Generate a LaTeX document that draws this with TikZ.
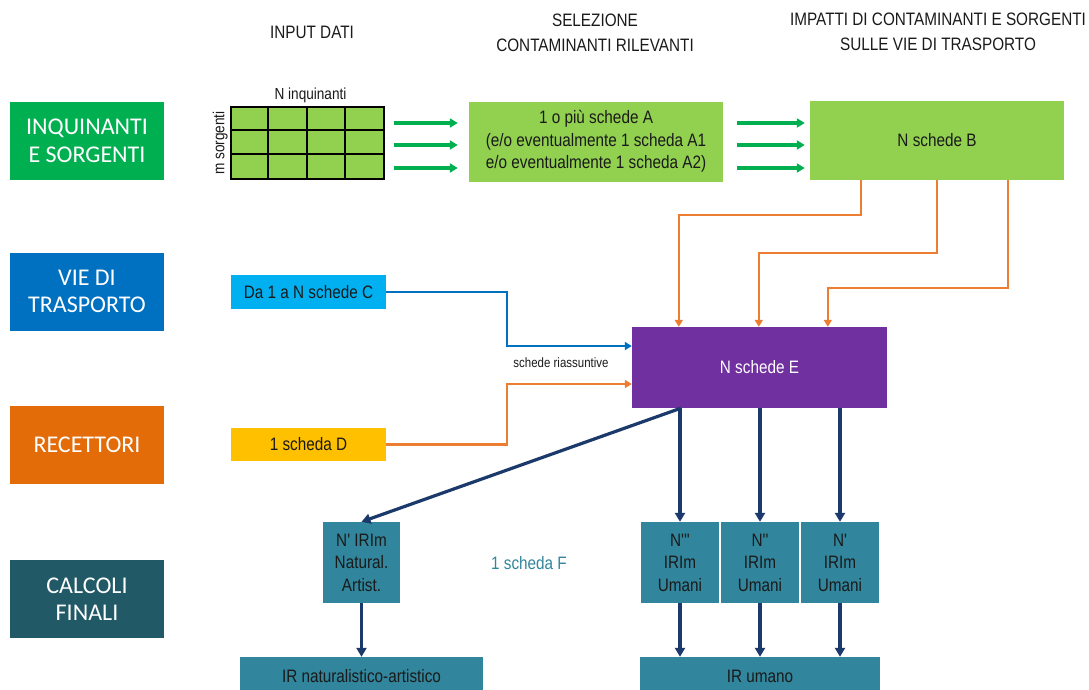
\documentclass[tikz,border=0pt]{standalone}
\usepackage{fontspec}
\usetikzlibrary{arrows.meta,calc}
\setmainfont{Liberation Sans}
\newfontfamily\narrowfont[FakeStretch=0.85]{Liberation Sans}
\newfontfamily\labelfont{Carlito}
\definecolor{cgreen}{HTML}{00B050}
\definecolor{lgreen}{HTML}{92D050}
\definecolor{cblue}{HTML}{0070C0}
\definecolor{corange}{HTML}{E36C09}
\definecolor{cdteal}{HTML}{215967}
\definecolor{ccyan}{HTML}{00B0F0}
\definecolor{cyellow}{HTML}{FFC000}
\definecolor{cpurple}{HTML}{7030A0}
\definecolor{cteal}{HTML}{31859C}
\definecolor{cnavy}{HTML}{1B3A6B}
\definecolor{lorange}{HTML}{ED7D31}
\definecolor{ctext}{HTML}{1A1A1A}
\begin{document}
\begin{tikzpicture}[x=1pt,y=-1pt,
  rowlabel/.style={rectangle,inner sep=0pt,minimum width=154pt,minimum height=78pt,
    align=center,text=white,font=\labelfont\fontsize{24}{27.5}\selectfont},
  card/.style={rectangle,inner sep=0pt,align=center,text=ctext,
    font=\narrowfont\fontsize{18}{22.5}\selectfont},
  head/.style={align=center,text=ctext,font=\narrowfont\fontsize{18}{25}\selectfont},
  garrow/.style={draw=cgreen,line width=3.2pt,-{Triangle[length=8pt,width=9pt]}},
  oarrow/.style={draw=lorange,line width=2.2pt,-{Triangle[length=7pt,width=8pt]}},
  barrow/.style={draw=cblue,line width=2.2pt,-{Triangle[length=7pt,width=8pt]}},
  narrow/.style={draw=cnavy,line width=3.2pt,-{Triangle[length=9pt,width=10pt]}}]
\useasboundingbox (0,0) rectangle (1089,689);

% row labels
\node[rowlabel,fill=cgreen] (r1) at (87,141) {INQUINANTI\\E SORGENTI};
\node[rowlabel,fill=cblue] (r2) at (87,291.5) {VIE DI\\TRASPORTO};
\node[rowlabel,fill=corange] (r3) at (87,445) {RECETTORI};
\node[rowlabel,fill=cdteal] (r4) at (87,599) {CALCOLI\\FINALI};

% column headings
\node[head] (h1) at (312,32) {INPUT DATI};
\node[head] (h2) at (595,33) {SELEZIONE\\CONTAMINANTI RILEVANTI};
\node[head] (h3) at (938,32) {IMPATTI DI CONTAMINANTI E SORGENTI\\SULLE VIE DI TRASPORTO};

% input grid
\node[draw=black,fill=lgreen,line width=2pt,inner sep=0pt,minimum width=153pt,minimum height=72pt] (grid) at (307.5,143) {};
\foreach \i in {1,2,3}
  \draw[black,line width=2pt] ($(grid.north west)+(38.25*\i,0)$) -- ($(grid.south west)+(38.25*\i,0)$);
\foreach \j in {1,2}
  \draw[black,line width=2pt] ($(grid.north west)+(0,24*\j)$) -- ($(grid.north east)+(0,24*\j)$);
\node[card,font=\narrowfont\fontsize{16}{18}\selectfont,anchor=south] (ninq) at ($(grid.north)+(3,-3)$) {N inquinanti};
\node[card,font=\narrowfont\fontsize{16}{18}\selectfont,rotate=90,anchor=south] (msorg) at ($(grid.west)+(-2,0)$) {m sorgenti};

% selection and impacts
\node[card,fill=lgreen,minimum width=254pt,minimum height=80pt] (A) at (596,141.5)
  {1 o più schede A\\(e/o eventualmente 1 scheda A1\\e/o eventualmente 1 scheda A2)};
\node[card,fill=lgreen,minimum width=254pt,minimum height=79pt] (B) at (937,140.5) {N schede B};

\foreach \dy in {-20,2,25} {
  \draw[garrow] ($(grid.east)+(9,\dy)$) -- ($(A.west |- grid.east)+(-11,\dy)$);
  \draw[garrow] ($(A.east |- grid.east)+(14,\dy)$) -- ($(B.west |- grid.east)+(-5,\dy)$);
}

% transport and receptors
\node[card,fill=ccyan,minimum width=155pt,minimum height=34pt] (C) at (308.5,292) {Da 1 a N schede C};
\node[card,fill=cyellow,minimum width=155pt,minimum height=33pt] (D) at (308.5,444.5) {1 scheda D};
\node[card,fill=cpurple,text=white,minimum width=255pt,minimum height=81pt] (E) at (759.5,367.5) {N schede E};

\draw[oarrow] ($(B.south west)+(51,0)$) -- ++(0,35) -| ($(E.north west)+(47,0)$);
\draw[oarrow] ($(B.south west)+(127,0)$) -- ++(0,73) -| ($(E.north west)+(127,0)$);
\draw[oarrow] ($(B.south west)+(198,0)$) -- ++(0,108) -| ($(E.north west)+(196,0)$);

\draw[barrow] (C.east) -- ++(121,0) |- ($(E.west)+(0,-21.5)$);
\draw[oarrow] (D.east) -- ++(121,0) |- ($(E.west)+(0,16.5)$);
\node[card,font=\narrowfont\fontsize{13.5}{15}\selectfont] (riass) at (561,363) {schede riassuntive};

% final calculations
\node[card,fill=cteal,minimum width=77pt,minimum height=81pt] (nat) at (361.5,562.5) {N' IRIm\\Natural.\\Artist.};
\node[card,fill=cteal,minimum width=78pt,minimum height=81pt] (u3) at (680,562.5) {N'''\\IRIm\\Umani};
\node[card,fill=cteal,minimum width=78pt,minimum height=81pt] (u2) at (760,562.5) {N''\\IRIm\\Umani};
\node[card,fill=cteal,minimum width=78pt,minimum height=81pt] (u1) at (840,562.5) {N'\\IRIm\\Umani};
\node[card,text=cteal] (fnote) at (529,563) {1 scheda F};
\node[card,fill=cteal,minimum width=243pt,minimum height=38pt] (irn) at (361.5,676) {IR naturalistico-artistico};
\node[card,fill=cteal,minimum width=240pt,minimum height=38pt] (iru) at (760,676) {IR umano};

\draw[narrow] ($(E.south west)+(49,0)$) -- (nat.north);
\foreach \u in {u3,u2,u1} {
  \draw[narrow] (E.south -| \u.north) -- (\u.north);
  \draw[narrow] (\u.south) -- (\u.south |- iru.north);
}
\draw[narrow] (nat.south) -- (irn.north);
\end{tikzpicture}
\end{document}
